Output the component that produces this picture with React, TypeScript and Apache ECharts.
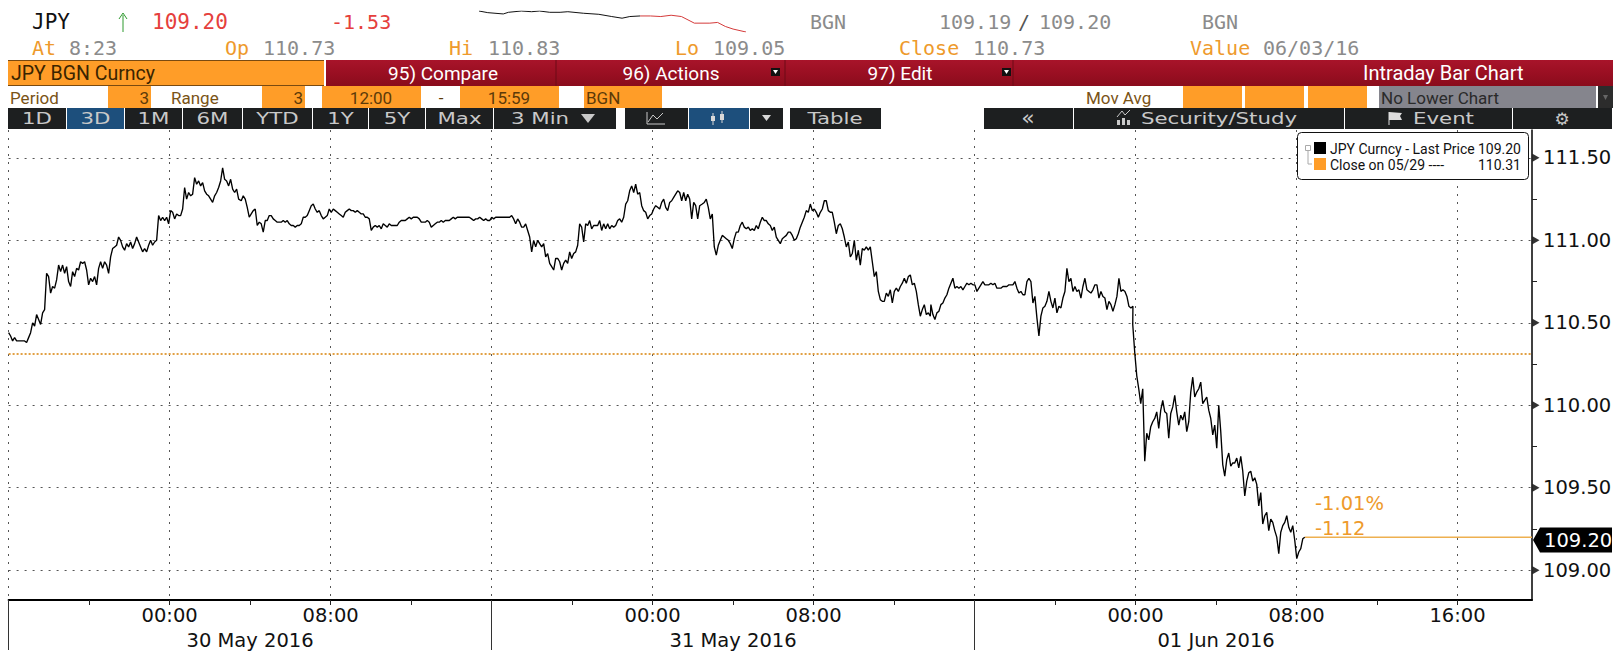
import React, { useEffect, useRef } from "react";
import * as echarts from "echarts";

// ---------- data: JPY last price, one reading per 6 min ----------
const STEP_HOURS = 0.0994;
const sectionA = [110.44,110.42,110.39,110.41,110.39,110.39,110.39,110.39,110.39,110.38,110.41,110.44,110.50,110.48,110.55,110.52,110.49,110.56,110.58,110.80,110.78,110.68,110.72,110.71,110.76,110.85,110.81,110.85,110.80,110.84,110.75,110.72,110.81,110.78,110.83,110.82,110.87,110.86,110.87,110.82,110.73,110.77,110.75,110.78,110.73,110.83,110.87,110.83,110.87,110.85,110.80,110.90,110.95,110.96,110.97,111.02,111.00,110.96,110.94,110.98,110.96,110.99,110.95,110.98,111.02,110.99,110.96,110.93,110.95,110.93,110.97,111.00,110.97,110.99,111.00,111.15,111.12,111.14,111.12,111.14,111.10,111.18,111.17,111.13,111.16,111.15,111.15,111.19,111.32,111.25,111.29,111.27,111.28,111.38,111.34,111.36,111.33,111.35,111.30,111.28,111.27,111.25,111.23,111.27,111.29,111.32,111.36,111.44,111.37,111.36,111.33,111.37,111.31,111.29,111.31,111.25];
const sectionB = [111.24,111.27,111.25,111.20,111.14,111.16,111.18,111.19,111.09,111.11,111.10,111.05,111.12,111.12,111.15,111.15,111.13,111.12,111.11,111.11,111.11,111.12,111.11,111.12,111.10,111.09,111.09,111.08,111.09,111.09,111.10,111.14,111.14,111.15,111.18,111.21,111.22,111.19,111.17,111.18,111.15,111.13,111.14,111.15,111.19,111.17,111.19,111.18,111.17,111.16,111.15,111.14,111.17,111.18,111.19,111.18,111.18,111.17,111.18,111.17,111.16,111.16,111.14,111.14,111.13,111.06,111.08,111.09,111.08,111.09,111.07,111.10,111.09,111.08,111.10,111.09,111.09,111.09,111.09,111.11,111.12,111.12,111.12,111.13,111.14,111.13,111.14,111.14,111.14,111.13,111.11,111.11,111.11,111.12,111.11,111.08,111.09,111.10,111.11,111.11,111.12,111.11,111.12,111.12,111.12,111.13,111.14,111.13,111.14,111.14,111.14,111.14,111.14,111.14,111.14];
const sectionC = [111.13,111.12,111.13,111.13,111.14,111.13,111.12,111.13,111.12,111.12,111.14,111.13,111.14,111.14,111.14,111.14,111.14,111.14,111.14,111.14,111.15,111.13,111.10,111.13,111.11,111.08,111.08,111.10,111.06,111.02,110.93,111.00,110.96,111.00,110.98,110.96,110.98,110.90,110.92,110.86,110.84,110.82,110.89,110.89,110.87,110.82,110.86,110.88,110.86,110.93,110.89,110.92,110.93,110.97,111.10,111.08,110.99,111.10,111.09,111.12,111.07,111.09,111.09,111.09,111.12,111.06,111.10,111.07,111.10,111.07,111.09,111.08,111.09,111.12,111.13,111.11,111.14,111.22,111.24,111.30,111.33,111.29,111.34,111.28,111.29,111.21,111.18,111.17,111.13,111.15,111.16,111.19,111.21,111.20,111.19,111.23,111.25,111.20,111.18,111.23,111.24,111.26,111.28,111.30,111.29,111.24,111.29,111.24,111.28,111.25,111.13,111.23,111.21,111.13,111.21];
const sectionD = [111.22,111.23,111.25,111.20,111.13,111.16,110.96,110.91,110.97,111.00,111.03,111.02,111.01,111.00,110.98,110.95,111.01,111.05,111.05,111.09,111.11,111.08,111.07,111.08,111.06,111.07,111.06,111.09,111.07,111.11,111.14,111.12,111.12,111.10,111.09,111.06,111.08,111.02,111.00,110.98,111.01,111.02,111.03,111.05,111.05,111.03,111.00,111.01,111.04,111.08,111.11,111.14,111.18,111.17,111.22,111.18,111.19,111.17,111.14,111.17,111.19,111.24,111.24,111.18,111.17,111.17,111.11,111.04,111.09,111.10,111.07,111.02,110.96,110.99,110.90,110.92,111.00,110.88,110.94,110.85,110.95,110.94,110.96,110.94,110.96,110.87,110.78,110.81,110.69,110.64,110.63,110.63,110.68,110.66,110.70,110.62,110.69,110.71,110.69,110.72,110.74,110.77,110.74,110.78,110.79,110.73,110.74,110.69,110.61,110.54,110.58,110.61,110.55,110.56,110.54];
const sectionE = [110.61,110.55,110.52,110.56,110.57,110.61,110.62,110.65,110.67,110.71,110.74,110.77,110.71,110.72,110.71,110.72,110.70,110.72,110.74,110.73,110.74,110.73,110.73,110.69,110.71,110.73,110.75,110.73,110.73,110.73,110.74,110.73,110.74,110.71,110.71,110.71,110.72,110.72,110.72,110.73,110.73,110.73,110.75,110.71,110.68,110.69,110.67,110.67,110.75,110.77,110.75,110.62,110.66,110.53,110.42,110.54,110.59,110.60,110.63,110.69,110.63,110.59,110.65,110.56,110.60,110.59,110.65,110.69,110.83,110.75,110.77,110.69,110.72,110.69,110.70,110.65,110.72,110.77,110.70,110.69,110.68,110.70,110.73,110.73,110.65,110.69,110.66,110.65,110.58,110.63,110.61,110.57,110.61,110.66,110.77,110.69,110.70,110.69,110.66,110.60,110.59,110.60];
const sectionF = [110.49,110.32,110.18,110.10,110.01,110.10,109.66,109.83,109.79,109.87,109.90,109.92,109.96,109.86,109.97,110.03,109.96,109.95,109.80,109.95,109.99,110.06,109.96,109.88,109.94,109.91,109.96,109.84,109.90,110.08,110.17,110.05,110.08,110.10,110.14,110.01,110.03,110.05,109.97,109.92,109.82,109.88,109.74,110.00,109.84,109.64,109.57,109.67,109.71,109.63,109.65,109.65,109.68,109.62,109.69,109.60,109.45,109.54,109.59,109.60,109.54,109.56,109.52,109.39,109.47,109.28,109.33,109.35,109.24,109.31,109.29,109.24,109.20,109.10,109.23,109.27,109.29,109.33,109.26,109.23,109.27,109.18,109.07,109.11,109.13,109.19,109.20];
const sectionStartHours = [0, 11.56, 23.01, 34.47, 45.83, 55.86];
const sections = [sectionA, sectionB, sectionC, sectionD, sectionE, sectionF];

const closePrice = 110.31;
const lastPrice = 109.2;
const hourMax = 75.7;
const priceMin = 108.819;
const priceMax = 111.669;
const priceTicks = [109, 109.5, 110, 110.5, 111, 111.5];
const priceMinorTicks = [109.25, 109.75, 110.25, 110.75, 111.25];
const gridHours = [0, 8, 16, 24, 32, 40, 48, 56, 64, 72];
const minorHours = [4, 12, 20, 28, 36, 44, 52, 60, 68];
const dayHours = [0, 24, 48];
const timeLabels: Record<number, string> = { 8: "00:00", 16: "08:00", 32: "00:00", 40: "08:00", 56: "00:00", 64: "08:00", 72: "16:00" };
const dateLabels: Record<number, string> = { 12: "30 May 2016", 36: "31 May 2016", 60: "01 Jun 2016" };

// header sparkline
const sparkBlackT = [0, 17, 47, 57, 82, 102, 117, 137, 157, 172, 202, 232, 257, 277, 292, 312];
const sparkBlackV = [110.83, 110.69, 110.58, 110.72, 110.83, 110.77, 110.83, 110.72, 110.72, 110.77, 110.64, 110.55, 110.36, 110.22, 110.36, 110.41];
const sparkRedT = [312, 332, 352, 372, 392, 417, 447, 462, 477, 492, 517];
const sparkRedV = [110.41, 110.41, 110.36, 110.47, 110.36, 109.8, 109.8, 109.86, 109.52, 109.3, 109.05];

const MONO = "'DejaVu Sans Mono'";
const SANS = "'DejaVu Sans'";
const NARROW = "'Liberation Sans Narrow','Roboto'";
const ORANGE = "#ff9d28";
const LABEL = "#ee9a2c";
const GREY = "#8b8b8b";
const DARK = "#1d1f20";
const BLUE = "#1d4f7c";
const TAB_TEXT = "#c9c9c9";
const TAB_STRETCH = 1.42;
const CRIMSON = { type: "linear", x: 0, y: 0, x2: 0, y2: 1, colorStops: [{ offset: 0, color: "#a8142a" }, { offset: 0.5, color: "#9a0f22" }, { offset: 1, color: "#8a0c1c" }] };

const txt = (x: number, y: number, text: string, fill: string, fontSize: number, fontFamily: string, textAlign = "left", z = 20) => ({
  type: "text", x, y, z, silent: true,
  style: { text, fill, fontSize, fontFamily, textAlign, textVerticalAlign: "middle" },
});
const tab = (x: number, y: number, text: string, textAlign = "center") => ({ ...txt(x, y, text, TAB_TEXT, 15, SANS, textAlign), scaleX: TAB_STRETCH });
const box = (x: number, y: number, width: number, height: number, fill: any, z = 10) => ({
  type: "rect", z, silent: true, shape: { x, y, width, height }, style: { fill },
});
const poly = (points: number[][], fill: string, z = 21) => ({ type: "polygon", z, silent: true, shape: { points }, style: { fill } });
const pl = (points: number[][], stroke: string, z = 21) => ({ type: "polyline", z, silent: true, shape: { points }, style: { stroke, fill: "none", lineWidth: 1 } });
const seg = (x1: number, y1: number, x2: number, y2: number, stroke: string, z = 21) => ({ type: "line", z, silent: true, shape: { x1, y1, x2, y2 }, style: { stroke, lineWidth: 1 } });

const headerGraphics = () => {
  const H1 = 22, H2 = 48, R2 = 73, R3 = 98, R4 = 118.5;
  const tabs: [number, number, string, boolean][] = [
    [8, 58, "1D", false], [67, 57, "3D", true], [125, 57, "1M", false], [183, 59, "6M", false], [243, 69, "YTD", false],
    [313, 55, "1Y", false], [369, 56, "5Y", false], [426, 67, "Max", false],
  ];
  const oranges: [number, number][] = [[108, 43], [262, 43], [322, 99], [460, 99], [584, 78], [1183, 59], [1245, 59], [1308, 59]];
  return [
    txt(32, H1, "JPY", "#111", 21, MONO),
    txt(152, H1, "109.20", "#e5403c", 21, MONO),
    txt(331, H1, "-1.53", "#e5403c", 20, MONO),
    seg(123, 15, 123, 32, "#2f9a2f"),
    pl([[119, 19], [123, 13], [127, 19]], "#2f9a2f"),
    txt(810, H1, "BGN", GREY, 20, MONO),
    txt(939, H1, "109.19", GREY, 20, MONO),
    txt(1018, H1, "/", "#555", 20, MONO),
    txt(1039, H1, "109.20", GREY, 20, MONO),
    txt(1202, H1, "BGN", GREY, 20, MONO),
    txt(32, H2, "At", LABEL, 20, MONO), txt(69, H2, "8:23", GREY, 20, MONO),
    txt(225, H2, "Op", LABEL, 20, MONO), txt(263, H2, "110.73", GREY, 20, MONO),
    txt(449, H2, "Hi", LABEL, 20, MONO), txt(488, H2, "110.83", GREY, 20, MONO),
    txt(675, H2, "Lo", LABEL, 20, MONO), txt(713, H2, "109.05", GREY, 20, MONO),
    txt(899, H2, "Close", LABEL, 20, MONO), txt(973, H2, "110.73", GREY, 20, MONO),
    txt(1190, H2, "Value", LABEL, 20, MONO), txt(1263, H2, "06/03/16", GREY, 20, MONO),

    box(8, 60, 316, 26, ORANGE), seg(8, 60.5, 324, 60.5, "#7a4a10"), seg(8, 85.5, 324, 85.5, "#7a4a10"),
    box(326, 60, 1287, 26, CRIMSON),
    seg(556, 60, 556, 86, "#6d0a16"), seg(785, 60, 785, 86, "#6d0a16"), seg(1013, 60, 1013, 86, "#6d0a16"),
    txt(11, R2, "JPY BGN Curncy", "#3a2400", 19.5, NARROW),
    txt(443, R2, "95) Compare", "#fff", 19, NARROW, "center"),
    txt(671, R2, "96) Actions", "#fff", 19, NARROW, "center"),
    txt(900, R2, "97) Edit", "#fff", 19, NARROW, "center"),
    txt(1363, R2, "Intraday Bar Chart", "#fff", 20, NARROW),
    box(771, 68, 9, 8, "#111", 20), poly([[773, 70], [778, 70], [775.5, 74]], "#fff"),
    box(1002, 68, 9, 8, "#111", 20), poly([[1004, 70], [1009, 70], [1006.5, 74]], "#fff"),

    ...oranges.map(([x, w]) => box(x, 86, w, 22, ORANGE)),
    box(1379, 86, 217, 22, "#85858d"), box(1598, 86, 15, 22, "#2c2c2c"),
    poly([[1603, 95], [1608, 95], [1605.5, 100]], "#666"),
    txt(10, R3, "Period", "#7a5316", 17, NARROW), txt(149, R3, "3", "#5c3a08", 17, NARROW, "right"),
    txt(171, R3, "Range", "#7a5316", 17, NARROW), txt(303, R3, "3", "#5c3a08", 17, NARROW, "right"),
    txt(371, R3, "12:00", "#5c3a08", 17, NARROW, "center"),
    txt(441, R3, "-", "#5c3a08", 17, NARROW, "center"),
    txt(509, R3, "15:59", "#5c3a08", 17, NARROW, "center"),
    txt(586, R3, "BGN", "#5c3a08", 17, NARROW),
    txt(1086, R3, "Mov Avg", "#7a5316", 17, NARROW),
    txt(1381, R3, "No Lower Chart", "#2a2a2a", 17, NARROW),

    ...tabs.map(([x, w, , on]) => box(x, 108, w, 21, on ? BLUE : DARK)),
    ...tabs.map(([x, w, s]) => tab(x + w / 2, R4, s)),
    box(494, 108, 122, 21, DARK), tab(511, R4, "3 Min", "left"),
    poly([[581, 114], [595, 114], [588, 123]], TAB_TEXT),
    box(625, 108, 63, 21, DARK), box(689, 108, 60, 21, BLUE), box(750, 108, 33, 21, DARK),
    pl([[648, 122], [653, 115], [657, 119], [663, 113]], TAB_TEXT), seg(647, 112, 647, 124, TAB_TEXT), seg(647, 124, 665, 124, TAB_TEXT),
    seg(713, 113, 713, 125, "#d8d8d8"), seg(722, 111, 722, 123, "#d8d8d8"), box(711, 116, 4, 5, "#d8d8d8", 21), box(720, 114, 4, 6, "#d8d8d8", 21),
    poly([[762, 115], [771, 115], [766.5, 121]], "#d8d8d8"),
    box(790, 108, 91, 21, DARK), tab(835, R4, "Table"),
    box(984, 108, 89, 21, DARK), txt(1028, R4 - 1, "«", TAB_TEXT, 22, SANS, "center"),
    box(1074, 108, 270, 21, DARK),
    pl([[1117, 117], [1122, 111], [1125, 115], [1130, 110]], TAB_TEXT), box(1117, 120, 3, 5, TAB_TEXT, 21), box(1122, 118, 3, 7, TAB_TEXT, 21), box(1127, 120, 3, 5, TAB_TEXT, 21),
    tab(1141, R4, "Security/Study", "left"),
    box(1345, 108, 167, 21, DARK),
    seg(1389, 112, 1389, 125, "#ddd"), poly([[1389, 112], [1402, 113], [1400, 116], [1402, 120], [1389, 120]], "#ddd"),
    tab(1413, R4, "Event", "left"),
    box(1513, 108, 99, 21, DARK), txt(1562, R4, "⚙", TAB_TEXT, 17, SANS, "center"),

    // legend
    { type: "rect", z: 30, silent: true, shape: { x: 1297.5, y: 132.5, width: 231, height: 47, r: 4 }, style: { fill: "#fff", stroke: "#111", lineWidth: 1 } },
    box(1314, 142, 12, 12, "#000", 31), box(1314, 158, 12, 12, ORANGE, 31),
    { type: "rect", z: 31, silent: true, shape: { x: 1305.5, y: 145.5, width: 5, height: 5 }, style: { fill: "#fff", stroke: "#aaa", lineWidth: 1 } },
    pl([[1308, 151], [1308, 164], [1312, 164]], "#aaa", 31),
    txt(1330, 149, "JPY Curncy - Last Price", "#111", 14, NARROW, "left", 31),
    txt(1521, 149, "109.20", "#111", 14, NARROW, "right", 31),
    txt(1330, 165, "Close on 05/29 ----", "#111", 14, NARROW, "left", 31),
    txt(1521, 165, "110.31", "#111", 14, NARROW, "right", 31),

    // last price flag and change labels
    poly([[1533, 540], [1540, 527.5], [1612, 527.5], [1612, 552.5], [1540, 552.5]], "#000", 25),
    txt(1544, 540, "109.20", "#fff", 19.5, SANS, "left", 26),
    txt(1315, 503, "-1.01%", LABEL, 19.5, SANS),
    txt(1315, 528, "-1.12", LABEL, 19.5, SANS),
  ];
};

export default function App() {
  const ref = useRef<HTMLDivElement>(null);
  useEffect(() => {
    document.body.style.margin = "0";
    document.body.style.background = "#fff";
    const chart = echarts.init(ref.current!, undefined, { renderer: "svg" });
    const price = sections.flatMap((vals, s) => vals.map((v, k) => [sectionStartHours[s] + k * STEP_HOURS, v]));
    const lastHour = price[price.length - 1][0];
    const gridLine = { show: true, lineStyle: { color: "#555", width: 1, type: [2, 6] } };
    const xCommon = { type: "value", gridIndex: 0, min: 0, max: hourMax, position: "bottom" };
    const yCommon = { type: "value", gridIndex: 0, min: priceMin, max: priceMax, position: "right" };
    chart.setOption({
      animation: false,
      backgroundColor: "#fff",
      grid: [
        { left: 8.6, right: 89, top: 130, bottom: 50, containLabel: false },
        { left: 479, top: 11, width: 267, height: 21 },
      ],
      xAxis: [
        {
          ...xCommon,
          axisLine: { show: true, onZero: false, lineStyle: { color: "#000", width: 2 } },
          axisTick: { show: false, customValues: gridHours },
          splitLine: gridLine,
          axisLabel: {
            customValues: [...Object.keys(timeLabels), ...Object.keys(dateLabels)].map(Number),
            formatter: (v: number) => timeLabels[v] ?? "\n" + dateLabels[v],
            color: "#111", fontFamily: SANS, fontSize: 19.5, lineHeight: 25, margin: 3, verticalAlign: "top",
          },
        },
        {
          ...xCommon, axisLine: { show: false, onZero: false }, axisLabel: { show: false }, splitLine: { show: false },
          axisTick: { show: true, customValues: [...minorHours, ...gridHours.slice(1).filter((h) => !dayHours.includes(h))], length: 5, inside: false, lineStyle: { color: "#222" } },
        },
        {
          ...xCommon, axisLine: { show: false, onZero: false }, axisLabel: { show: false }, splitLine: { show: false },
          axisTick: { show: true, customValues: dayHours, length: 50, lineStyle: { color: "#333" } },
        },
        { type: "value", gridIndex: 1, min: 0, max: 517, show: false },
      ],
      yAxis: [
        {
          ...yCommon,
          axisLine: { show: true, onZero: false, lineStyle: { color: "#000", width: 1.5 } },
          axisTick: { show: false, customValues: priceTicks },
          splitLine: gridLine,
          axisLabel: { customValues: priceTicks, formatter: (v: number) => v.toFixed(2), color: "#111", fontFamily: SANS, fontSize: 19.5, margin: 11 },
        },
        {
          ...yCommon, axisLine: { show: false, onZero: false }, axisLabel: { show: false }, splitLine: { show: false },
          axisTick: { show: true, customValues: priceMinorTicks, length: 5, lineStyle: { color: "#222" } },
        },
        { type: "value", gridIndex: 1, min: 109.05, max: 110.83, show: false },
      ],
      series: [
        {
          name: "Close on 05/29", type: "line", xAxisIndex: 0, yAxisIndex: 0, symbol: "none", silent: true,
          data: [[0, closePrice], [hourMax, closePrice]],
          lineStyle: { color: "#e2a044", width: 2, type: [2, 2] }, z: 3,
        },
        {
          name: "Last Price level", type: "line", xAxisIndex: 0, yAxisIndex: 0, symbol: "none", silent: true,
          data: [[lastHour, lastPrice], [hourMax, lastPrice]],
          lineStyle: { color: "#eeb050", width: 1.5 }, z: 3,
        },
        {
          name: "JPY Curncy - Last Price", type: "line", xAxisIndex: 0, yAxisIndex: 0, symbol: "none", silent: true,
          data: price, lineStyle: { color: "#000", width: 1.35 }, z: 5,
        },
        {
          name: "ticks", type: "scatter", xAxisIndex: 0, yAxisIndex: 0, silent: true, clip: false,
          data: priceTicks.map((p) => [hourMax, p]), symbol: "triangle", symbolSize: [8, 7], symbolRotate: -90, symbolOffset: [4, 0],
          itemStyle: { color: "#000" }, z: 6,
        },
        {
          name: "spark", type: "line", xAxisIndex: 3, yAxisIndex: 2, symbol: "none", silent: true,
          data: sparkBlackT.map((t, i) => [t, sparkBlackV[i]]), lineStyle: { color: "#111", width: 1 },
        },
        {
          name: "sparkRed", type: "line", xAxisIndex: 3, yAxisIndex: 2, symbol: "none", silent: true,
          data: sparkRedT.map((t, i) => [t, sparkRedV[i]]), lineStyle: { color: "#d43a3a", width: 1 },
        },
      ],
      graphic: { elements: headerGraphics() },
    });
    return () => chart.dispose();
  }, []);
  return <div ref={ref} style={{ position: "absolute", left: 0, top: 0, width: 1621, height: 653 }} />;
}
